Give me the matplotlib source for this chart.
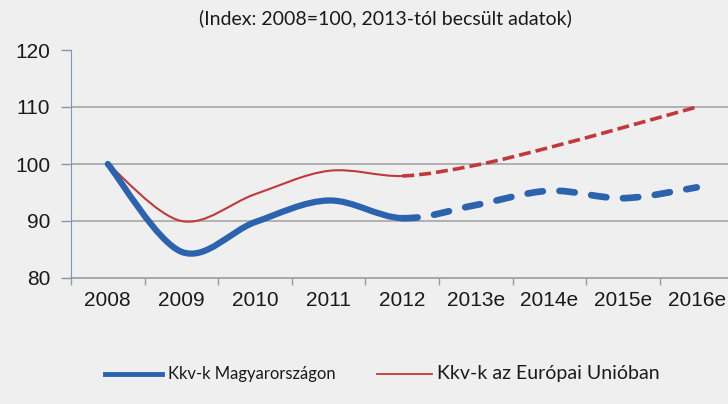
import matplotlib
matplotlib.use("Agg")
import matplotlib.pyplot as plt
from matplotlib.path import Path
from matplotlib.patches import PathPatch
from matplotlib.lines import Line2D

# data
years = ['2008', '2009', '2010', '2011', '2012', '2013e', '2014e', '2015e', '2016e']
hu = [100, 84.6, 89.8, 93.6, 90.5, 92.8, 95.3, 94.0, 95.9]
eu = [100, 90.0, 94.7, 98.8, 97.9, 99.8, 102.9, 106.4, 110.0]
n_actual = 5  # 2008..2012 measured, rest estimated

bg = '#efefef'
blue = '#2b63ae'
red = '#c0393b'


def smooth_paths(x, y, split):
    # excel-like smoothed line as bezier segments, split into two paths
    pts = list(zip(x, y))
    n = len(pts)
    segs = []
    for i in range(n - 1):
        p0 = pts[max(i - 1, 0)]
        p1 = pts[i]
        p2 = pts[i + 1]
        p3 = pts[min(i + 2, n - 1)]
        c1 = (p1[0] + (p2[0] - p0[0]) / 6.0, p1[1] + (p2[1] - p0[1]) / 6.0)
        c2 = (p2[0] - (p3[0] - p1[0]) / 6.0, p2[1] - (p3[1] - p1[1]) / 6.0)
        segs.append((p1, c1, c2, p2))

    def build(ss):
        verts = [ss[0][0]]
        codes = [Path.MOVETO]
        for s in ss:
            verts += [s[1], s[2], s[3]]
            codes += [Path.CURVE4] * 3
        return Path(verts, codes)
    return build(segs[:split - 1]), build(segs[split - 1:])


fig = plt.figure(figsize=(7.28, 4.04), dpi=100, facecolor=bg)
ax = fig.add_axes([71 / 728.0, 1 - 278 / 404.0, 657 / 728.0, 228 / 404.0])
ax.set_facecolor(bg)

xs = list(range(len(years)))

# (values, colour, solid lw, dashed lw, dash pattern, cap)
styles = [(eu, red, 1.5, 2.6, (3.3, 1.4), 'butt'),
          (hu, blue, 4.5, 4.8, (2.3, 2.5), 'round')]
for yy, col, lw_s, lw_d, dsh, cap in styles:
    p_act, p_est = smooth_paths(xs, yy, n_actual)
    ax.add_patch(PathPatch(p_act, fill=False, edgecolor=col, lw=lw_s,
                           capstyle='round', joinstyle='round', zorder=3))
    ax.add_patch(PathPatch(p_est, fill=False, edgecolor=col, lw=lw_d,
                           linestyle=(0, dsh), capstyle=cap, zorder=3))

ax.set_xlim(-0.5, 8.424)
ax.set_ylim(80, 120)

for g in [90, 100, 110]:
    ax.axhline(g, color='#a6a6a6', lw=1.2, zorder=1)

ax.set_yticks([80, 90, 100, 110, 120])
ax.set_xticks(xs)
ax.set_xticklabels(years)
ax.set_xticks([i + 0.5 for i in range(-1, 8)], minor=True)

ax.tick_params(axis='y', direction='out', length=7, width=1, color='#8096b8',
               labelsize=15, pad=8, labelcolor='#1a1a1a')
ax.tick_params(axis='x', which='major', length=0, labelsize=15, pad=9, labelcolor='#1a1a1a')
ax.tick_params(axis='x', which='minor', direction='out', length=5, width=1, color='#9a9a9a')

for lab in ax.get_xticklabels() + ax.get_yticklabels():
    lab.set_fontfamily('Liberation Sans')

for s in ['top', 'right']:
    ax.spines[s].set_visible(False)
ax.spines['left'].set_color('#8096b8')
ax.spines['bottom'].set_color('#9a9a9a')
ax.spines['bottom'].set_linewidth(1.2)

fig.text(385 / 728.0, 1 - 18 / 404.0, '(Index: 2008=100, 2013-tól becsült adatok)',
         ha='center', va='center', fontsize=14, family='Lato', color='#1a1a1a')

# legend drawn by hand
ly = 1 - 374 / 404.0
fig.add_artist(Line2D([105 / 728.0, 162 / 728.0], [ly, ly],
                      color=blue, lw=3.5, transform=fig.transFigure))
fig.text(168 / 728.0, ly, 'Kkv-k Magyarországon', ha='left', va='center',
         fontsize=12, family='Lato', color='#1a1a1a')
fig.add_artist(Line2D([377 / 728.0, 432 / 728.0], [ly, ly],
                      color=red, lw=1.3, transform=fig.transFigure))
fig.text(437 / 728.0, ly, 'Kkv-k az Európai Unióban', ha='left', va='center',
         fontsize=14, family='Lato', color='#1a1a1a')

fig.savefig('out.png', dpi=100, facecolor=bg)
